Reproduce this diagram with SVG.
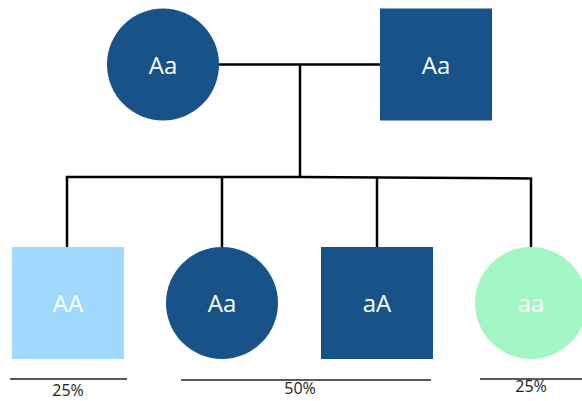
<svg xmlns="http://www.w3.org/2000/svg" width="582" height="401" viewBox="0 0 582 401">
  <style>
    .dark { fill: #175389; }
    .light { fill: #A0D8FE; }
    .green { fill: #A3F7C4; }
    .lbl { font-family: "Open Sans", "Noto Sans", sans-serif; font-size: 24px; fill: #ffffff; text-anchor: middle; }
    .pct { font-family: "Open Sans", "Noto Sans", sans-serif; font-size: 16px; fill: #222222; text-anchor: middle; }
    .wire { stroke: #000000; stroke-width: 2.5; fill: none; }
    .rule { stroke: #222222; stroke-width: 1.4; fill: none; }
  </style>
  <rect width="582" height="401" fill="#ffffff"/>

  <!-- connectors -->
  <g id="connectors">
    <line class="wire" x1="219" y1="64.5" x2="380" y2="64.5"/>
    <line class="wire" x1="300" y1="64.5" x2="300" y2="177.5"/>
    <polyline class="wire" points="67,247 67,177 300,177 531,178.5 531,247"/>
    <line class="wire" x1="222" y1="177" x2="222" y2="247"/>
    <line class="wire" x1="377" y1="178" x2="377" y2="247"/>
  </g>

  <!-- parents -->
  <g id="mother">
    <circle class="dark" cx="163" cy="64.5" r="56"/>
    <text class="lbl" x="163" y="73.5">Aa</text>
  </g>
  <g id="father">
    <rect class="dark" x="380" y="8.5" width="112" height="112"/>
    <text class="lbl" x="436" y="73.5">Aa</text>
  </g>

  <!-- offspring -->
  <g id="child-AA">
    <rect class="light" x="12" y="247" width="112" height="112"/>
    <text class="lbl" x="68" y="311.5">AA</text>
  </g>
  <g id="child-Aa">
    <circle class="dark" cx="222" cy="303" r="56"/>
    <text class="lbl" x="222" y="311.5">Aa</text>
  </g>
  <g id="child-aA">
    <rect class="dark" x="321" y="247" width="112" height="112"/>
    <text class="lbl" x="377" y="311.5">aA</text>
  </g>
  <g id="child-aa">
    <circle class="green" cx="531" cy="303" r="56"/>
    <text class="lbl" x="531" y="311.5">aa</text>
  </g>

  <!-- ratio labels -->
  <g id="ratios">
    <line class="rule" x1="10" y1="379" x2="127" y2="379"/>
    <text class="pct" x="68" y="396">25%</text>
    <line class="rule" x1="181" y1="380" x2="431" y2="380"/>
    <text class="pct" x="300" y="394">50%</text>
    <line class="rule" x1="480" y1="379" x2="582" y2="379"/>
    <text class="pct" x="531" y="392">25%</text>
  </g>
</svg>
